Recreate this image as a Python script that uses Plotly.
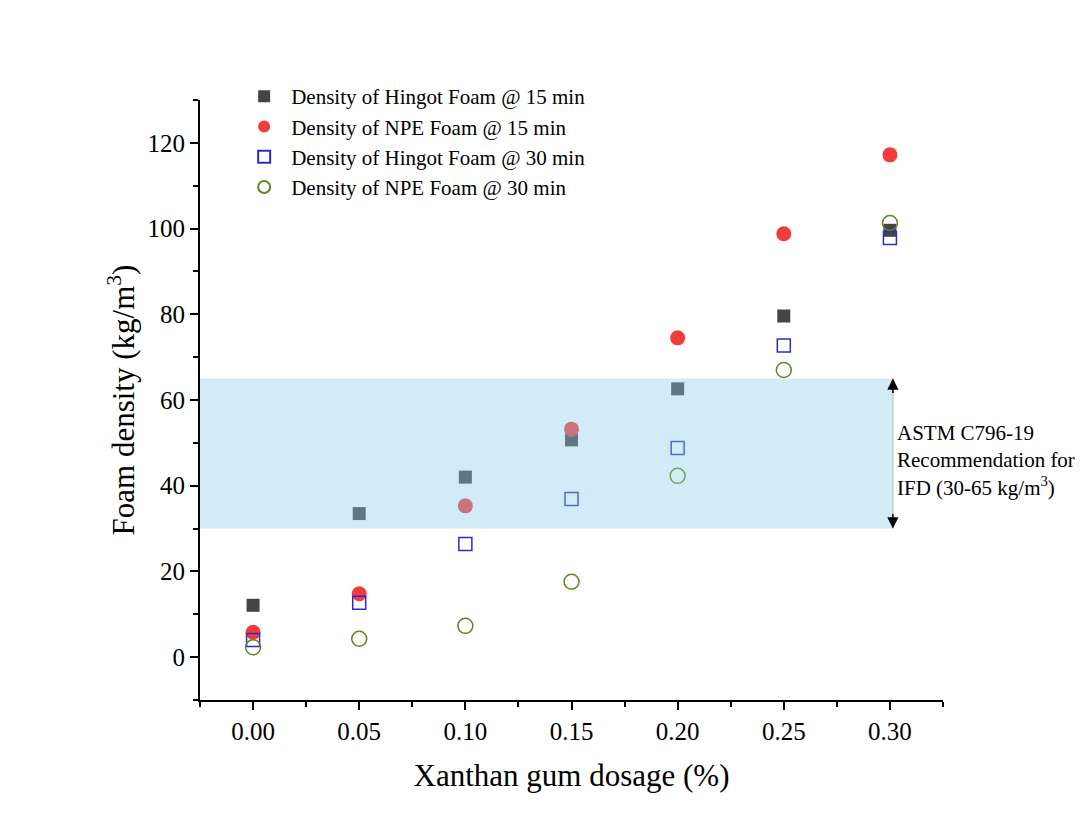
import plotly.graph_objects as go

dosage = [0.00, 0.05, 0.10, 0.15, 0.20, 0.25, 0.30]
hingot_15 = [12.1, 33.5, 42.0, 50.7, 62.6, 79.6, 99.6]
npe_15 = [5.8, 14.8, 35.3, 53.2, 74.5, 98.8, 117.2]
hingot_30 = [4.0, 12.7, 26.4, 36.9, 48.8, 72.7, 97.8]
npe_30 = [2.3, 4.3, 7.3, 17.6, 42.3, 67.0, 101.3]

band_low, band_high = 30, 65
band_label = "ASTM C796-19<br>Recommendation for<br>IFD (30-65 kg/m<sup>3</sup>)"

FONT = "Liberation Serif"

fig = go.Figure()
fig.add_trace(go.Scatter(x=dosage, y=hingot_15, mode="markers", name="Density of Hingot Foam @ 15 min",
                         marker=dict(symbol="square", size=13, color="#444444")))
fig.add_trace(go.Scatter(x=dosage, y=npe_15, mode="markers", name="Density of NPE Foam @ 15 min",
                         marker=dict(symbol="circle", size=15, color="#f23b3b")))
fig.add_trace(go.Scatter(x=dosage, y=hingot_30, mode="markers", name="Density of Hingot Foam @ 30 min",
                         marker=dict(symbol="square-open", size=13, color="#2b2bd0", line=dict(width=1.5))))
fig.add_trace(go.Scatter(x=dosage, y=npe_30, mode="markers", name="Density of NPE Foam @ 30 min",
                         marker=dict(symbol="circle-open", size=15, color="#5a8a1e", line=dict(width=1.5))))

band_x1 = 0.3014
fig.add_shape(type="rect", xref="x", yref="y", x0=-0.025, x1=band_x1, y0=band_low, y1=band_high,
              fillcolor="rgba(138,205,234,0.385)", line=dict(width=0), layer="above")
fig.add_shape(type="line", xref="x", yref="y", x0=band_x1, x1=band_x1, y0=band_low, y1=band_high,
              line=dict(color="#c8c8c8", width=1.5), layer="above")
for yv, ay in [(band_high, 16), (band_low, -16)]:
    fig.add_annotation(x=band_x1, y=yv, ax=0, ay=ay, showarrow=True, arrowhead=2, arrowsize=1.5,
                       arrowwidth=1.5, arrowcolor="black", text="")
fig.add_annotation(x=band_x1, y=(band_low + band_high) / 2, xref="x", yref="y", xanchor="left",
                   xshift=2, yshift=-7, showarrow=False, align="left", text=band_label,
                   font=dict(family=FONT, size=21, color="black"))

axis_common = dict(showline=True, linecolor="black", linewidth=2, ticks="outside", ticklen=8,
                   tickwidth=2, tickcolor="black", showgrid=False, zeroline=False, mirror=False,
                   tickfont=dict(family=FONT, size=25, color="black"))

fig.update_xaxes(range=[-0.025, 0.325], tickvals=dosage, ticktext=[f"{v:.2f}" for v in dosage],
                 minor=dict(ticks="outside", ticklen=5, tickwidth=2, tickcolor="black",
                            tickvals=[-0.025, 0.025, 0.075, 0.125, 0.175, 0.225, 0.275, 0.325]),
                 title=dict(text="Xanthan gum dosage (%)", font=dict(family=FONT, size=31, color="black"),
                            standoff=20),
                 **axis_common)
fig.update_yaxes(range=[-10, 130], tickvals=[0, 20, 40, 60, 80, 100, 120],
                 minor=dict(ticks="outside", ticklen=5, tickwidth=2, tickcolor="black",
                            tickvals=[-10, 10, 30, 50, 70, 90, 110, 130]),
                 title=dict(text="Foam density (kg/m<sup>3</sup>)", font=dict(family=FONT, size=31, color="black"),
                            standoff=4),
                 **axis_common)

fig.update_layout(
    width=1087, height=833,
    margin=dict(l=200, r=144, t=100, b=133),
    plot_bgcolor="white", paper_bgcolor="white",
    showlegend=True,
    legend=dict(x=0.05, y=1.04, xanchor="left", yanchor="top", bgcolor="rgba(0,0,0,0)",
                font=dict(family=FONT, size=21, color="black"), itemsizing="constant",
                tracegroupgap=0, itemwidth=44),
)

fig.write_html("out.html")
